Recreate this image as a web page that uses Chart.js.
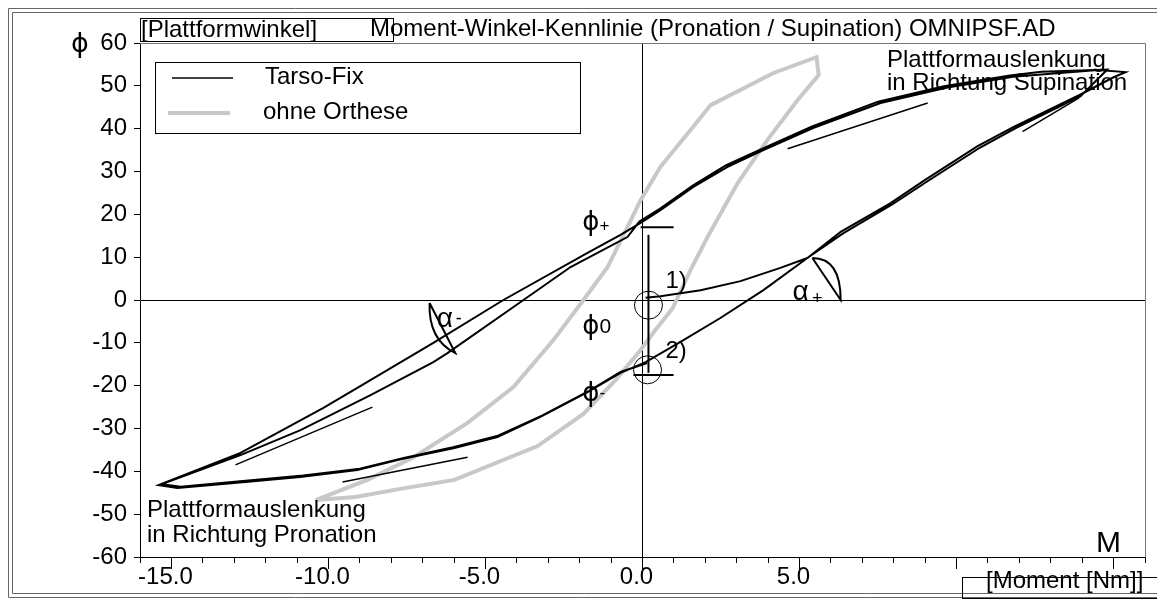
<!DOCTYPE html>
<html>
<head>
<meta charset="utf-8">
<script src="https://cdn.jsdelivr.net/npm/chart.js@4.4.0/dist/chart.umd.min.js"></script>
<style>
html, body { margin: 0; padding: 0; background: #fff; }
#wrap { width: 1157px; height: 602px; }
</style>
</head>
<body>
<div id="wrap"><canvas id="kennlinie" width="1157" height="602"></canvas></div>
<script>
// Tarso-Fix: Moment [Nm] / Plattformwinkel [deg], two load cycles starting at 1)
const tarsoM = [
  0.10, 0.57, 1.85, 3.12, 4.39, 5.25, 6.31, 7.90, 8.95, 10.67, 11.82, 13.90, 15.00, 15.38,
  14.50, 11.80, 9.71, 7.58, 5.45, 3.85, 2.71, 1.62, 0.57, -0.06, -0.70,
  -1.75, -4.43, -6.66, -9.08, -10.16, -12.80, -15.41,
  -14.81, -13.00, -10.90, -9.08, -7.70, -6.02, -4.62, -3.25, -1.75, -0.70, 0.10, 1.21, 2.48, 3.85, 5.25,
  6.40, 7.95, 9.05, 10.75, 11.90, 13.95, 14.80,
  12.70, 11.70, 9.60, 7.50, 5.40, 3.80, 2.65, 1.60, 0.55, -0.10,
  -0.48, -2.29, -3.79, -6.21, -6.66, -8.66, -10.89, -12.80, -15.30,
  -14.70, -12.90, -10.80, -9.00, -7.60, -6.00, -4.60, -3.20, -1.70, -0.70, 0.15
];
const tarsoPhi = [
  0.5, 0.9, 2.3, 4.4, 7.5, 9.8, 15.9, 22.6, 27.8, 35.9, 40.4, 47.8, 52.0, 53.2,
  53.7, 52.1, 49.6, 46.0, 40.2, 35.0, 31.1, 26.4, 21.0, 18.0, 15.2,
  11.0, 0.0, -10.0, -20.5, -25.2, -35.7, -43.2,
  -43.9, -42.7, -41.3, -39.7, -37.2, -34.6, -32.0, -27.3, -21.5, -17.0, -14.5, -9.8, -4.2, 2.3, 9.8,
  15.6, 22.3, 27.6, 35.6, 40.2, 47.6, 53.8,
  53.3, 52.4, 49.9, 46.3, 40.5, 35.3, 31.4, 26.7, 21.3, 18.3,
  14.7, 7.7, 0.0, -12.4, -14.5, -22.2, -30.4, -36.2, -43.0,
  -43.6, -42.4, -41.0, -39.4, -36.9, -34.3, -31.7, -27.0, -21.2, -16.8, -14.7
];

// ohne Orthese
const ohneM = [
  -10.41, -9.14, -7.71, -5.99, -3.34, -1.88, -0.86, -0.06, 0.41, 0.96, 1.53, 2.07, 3.03, 3.98, 4.94, 5.61,
  5.54, 4.17, 2.17, 1.53, 0.57, -0.06, -0.48, -1.11, -1.88, -2.83, -4.11, -5.57, -7.29, -8.76, -10.41
];
const ohnePhi = [
  -46.7, -46.0, -44.1, -42.0, -34.1, -26.6, -18.7, -11.7, -7.0, -1.9, 7.0, 14.7, 27.3, 37.4, 46.7, 52.5,
  56.7, 53.0, 45.5, 39.7, 31.1, 23.3, 17.0, 7.7, 0.0, -9.3, -20.3, -28.7, -36.7, -42.0, -46.7
];

// short tangent lines [M1, phi1, M2, phi2]
const tangentLines = [
  [-12.96, -38.5, -8.60, -25.0],
  [-9.55, -42.5, -5.57, -36.7],
  [4.62, 35.3, 9.08, 46.0],
  [12.1, 39.3, 13.9, 47.2]
];

const xMin = -16, xMax = 16, xStep = 1, xMajorEvery = 5;
const xLabelled = [-15, -10, -5, 0, 5];
const yMin = -60, yMax = 60, yStep = 10;

const chartTitle = 'Moment-Winkel-Kennlinie (Pronation / Supination) OMNIPSF.AD';
const seriesNames = ['Tarso-Fix', 'ohne Orthese'];

const FONT = '"Liberation Sans", Arial, sans-serif';
const GREEK = '"DejaVu Sans", sans-serif';

function zip(xs, ys) {
  return xs.map((x, i) => ({ x: x, y: ys[i] }));
}

const datasets = [];
datasets.push({
  label: seriesNames[0],
  data: zip(tarsoM, tarsoPhi),
  borderColor: '#000',
  borderWidth: 2,
  showLine: true,
  pointRadius: 0,
  tension: 0
});
tangentLines.forEach(t => {
  datasets.push({
    label: 'tangent',
    data: [{ x: t[0], y: t[1] }, { x: t[2], y: t[3] }],
    borderColor: '#000',
    borderWidth: 1.5,
    showLine: true,
    pointRadius: 0
  });
});
datasets.push({
  label: seriesNames[1],
  data: zip(ohneM, ohnePhi),
  borderColor: '#c8c8c8',
  borderWidth: 4,
  showLine: true,
  pointRadius: 0,
  tension: 0
});

function crisp(v) { return Math.round(v - 0.5) + 0.5; }

function line(ctx, x1, y1, x2, y2) {
  ctx.beginPath();
  ctx.moveTo(x1, y1);
  ctx.lineTo(x2, y2);
  ctx.stroke();
}

const decor = {
  id: 'decor',
  afterDraw(chart) {
    const ctx = chart.ctx;
    const xs = chart.scales.x, ys = chart.scales.y;
    const a = chart.chartArea;
    const px = v => xs.getPixelForValue(v);
    const py = v => ys.getPixelForValue(v);
    ctx.save();

    // outer double frame
    ctx.strokeStyle = '#666';
    ctx.lineWidth = 1;
    line(ctx, 8.5, 8.5, 1157, 8.5);
    line(ctx, 12.5, 12.5, 1157, 12.5);
    line(ctx, 8.5, 8.5, 8.5, 597.5);
    line(ctx, 12.5, 12.5, 12.5, 593.5);
    line(ctx, 8.5, 597.5, 1157, 597.5);
    line(ctx, 12.5, 593.5, 1157, 593.5);

    // plot frame top / right
    ctx.strokeStyle = '#777';
    line(ctx, a.left, crisp(a.top), crisp(a.right), crisp(a.top));
    line(ctx, crisp(a.right), crisp(a.top), crisp(a.right), a.bottom);

    // longer major x ticks
    ctx.strokeStyle = '#000';
    for (let v = -15; v <= 15; v += xMajorEvery) {
      const x = crisp(px(v));
      line(ctx, x, a.bottom, x, a.bottom + 12);
    }

    // title and axis boxes
    ctx.fillStyle = '#000';
    ctx.textAlign = 'left';
    ctx.textBaseline = 'alphabetic';
    ctx.font = '24px ' + FONT;
    ctx.fillText(chartTitle, 370, 36);
    ctx.strokeStyle = '#000';
    ctx.strokeRect(140.5, 18.5, 253, 23);
    ctx.fillText('[Plattformwinkel]', 141, 37);
    ctx.strokeRect(962.5, 577.5, 200, 21);
    ctx.fillText('[Moment [Nm]]', 986, 588);
    ctx.font = '30px ' + FONT;
    ctx.fillText('M', 1096, 552);
    ctx.font = '27px ' + GREEK;
    ctx.fillText('\u03D5', 71, 52);

    // legend
    ctx.lineWidth = 1;
    ctx.strokeRect(155.5, 62.5, 425, 71);
    ctx.strokeStyle = '#000';
    ctx.lineWidth = 1.5;
    line(ctx, 172, 78, 233, 78);
    ctx.strokeStyle = '#c8c8c8';
    ctx.lineWidth = 4;
    line(ctx, 168, 113, 230, 113);
    ctx.font = '24px ' + FONT;
    ctx.fillText(seriesNames[0], 265, 84);
    ctx.fillText(seriesNames[1], 263, 119);

    // region notes
    ctx.fillText('Plattformauslenkung', 887, 67);
    ctx.fillText('in Richtung Supination', 887, 90);
    ctx.fillText('Plattformauslenkung', 147, 517);
    ctx.fillText('in Richtung Pronation', 147, 542);

    // phi markers
    ctx.strokeStyle = '#000';
    ctx.lineWidth = 2;
    line(ctx, px(-0.06), py(17.0), px(0.99), py(17.0));
    line(ctx, px(0.19), py(15.2), px(0.19), py(-17.0));
    line(ctx, px(-0.29), py(-17.5), px(0.99), py(-17.5));
    ctx.lineWidth = 1;
    ctx.beginPath();
    ctx.arc(px(0.19), py(-1.2), 14, 0, Math.PI * 2);
    ctx.stroke();
    ctx.beginPath();
    ctx.arc(px(0.16), py(-16.3), 14, 0, Math.PI * 2);
    ctx.stroke();

    // angle crescents
    ctx.lineWidth = 2;
    ctx.beginPath();
    ctx.moveTo(px(5.41), py(9.8));
    ctx.quadraticCurveTo(px(6.31), py(9.8), px(6.31), py(0));
    ctx.lineTo(px(5.41), py(9.8));
    ctx.stroke();
    ctx.beginPath();
    ctx.moveTo(px(-6.78), py(-0.7));
    ctx.quadraticCurveTo(px(-6.82), py(-9.3), px(-5.96), py(-12.4));
    ctx.lineTo(px(-6.78), py(-0.7));
    ctx.stroke();

    // greek labels
    ctx.font = '26px ' + GREEK;
    ctx.fillText('\u03D5', px(-1.92), py(16.4));
    ctx.fillText('\u03D5', px(-1.92), py(-7.9));
    ctx.fillText('\u03D5', px(-1.92), py(-23.5));
    ctx.font = '17px ' + FONT;
    ctx.fillText('+', px(-1.37), py(16.0));
    ctx.fillText('-', px(-1.37), py(-22.8));
    ctx.font = '21px ' + FONT;
    ctx.fillText('0', px(-1.37), py(-7.7));
    ctx.font = '28px ' + FONT;
    ctx.fillText('\u03B1', px(4.78), py(0));
    ctx.fillText('\u03B1', px(-6.55), py(-6.3));
    ctx.font = '18px ' + FONT;
    ctx.fillText('+', px(5.4), py(-1.0));
    ctx.fillText('-', px(-5.95), py(-5.6));
    ctx.font = '24px ' + FONT;
    ctx.fillText('1)', px(0.73), py(2.8));
    ctx.fillText('2)', px(0.73), py(-13.5));

    ctx.restore();
  }
};

new Chart(document.getElementById('kennlinie'), {
  type: 'scatter',
  data: { datasets: datasets },
  plugins: [decor],
  options: {
    responsive: false,
    devicePixelRatio: 1,
    animation: false,
    layout: { padding: { left: 0, top: 43, right: 12, bottom: 0 } },
    plugins: {
      legend: { display: false },
      tooltip: { enabled: false },
      title: { display: false }
    },
    scales: {
      x: {
        type: 'linear',
        position: 'bottom',
        min: xMin,
        max: xMax,
        afterFit: s => { s.height = 45; },
        ticks: {
          stepSize: xStep,
          autoSkip: false,
          maxRotation: 0,
          padding: 0,
          labelOffset: -6,
          color: '#000',
          font: { family: FONT, size: 24 },
          callback: v => (xLabelled.includes(v) ? v.toFixed(1) : '')
        },
        grid: {
          color: c => (c.tick && c.tick.value === 0 ? '#000' : 'transparent'),
          tickColor: '#000',
          tickLength: 6,
          lineWidth: 1
        },
        border: { display: true, color: '#000', width: 1 }
      },
      y: {
        type: 'linear',
        min: yMin,
        max: yMax,
        afterFit: s => { s.width = 140; },
        ticks: {
          stepSize: yStep,
          padding: 7,
          color: '#000',
          font: { family: FONT, size: 24 }
        },
        grid: {
          color: c => (c.tick && c.tick.value === 0 ? '#000' : 'transparent'),
          tickColor: '#000',
          tickLength: 6,
          lineWidth: 1
        },
        border: { display: true, color: '#000', width: 1 }
      }
    }
  }
});
</script>
</body>
</html>
